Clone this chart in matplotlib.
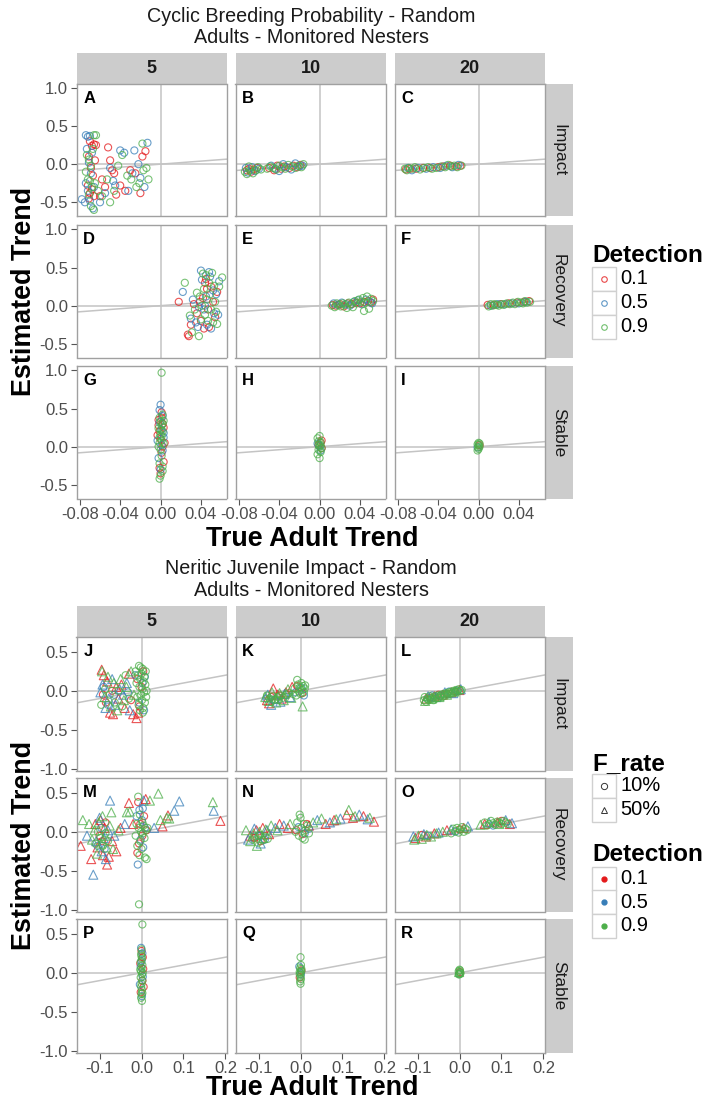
import matplotlib.pyplot as plt
from matplotlib.patches import Rectangle

plt.rcParams['font.family'] = ['Liberation Sans', 'DejaVu Sans']

W, H = 707, 1101

det_levels = ["0.1", "0.5", "0.9"]
det_colors = ["#E41A1C", "#377EB8", "#4DAF4A"]
f_levels = ["10%", "50%"]
f_markers = {10: "o", 50: "^"}

n_nesters = ["5", "10", "20"]
scenarios = ["Impact", "Recovery", "Stable"]

top_title = ["Cyclic Breeding Probability - Random", "Adults - Monitored Nesters"]
bottom_title = ["Neritic Juvenile Impact - Random", "Adults - Monitored Nesters"]

top_xticks = [-0.08, -0.04, 0.0, 0.04]
top_xlabels = ["-0.08", "-0.04", "0.00", "0.04"]
top_yticks = [-0.5, 0.0, 0.5, 1.0]
top_ylabels = ["-0.5", "0.0", "0.5", "1.0"]
bot_xticks = [-0.1, 0.0, 0.1, 0.2]
bot_xlabels = ["-0.1", "0.0", "0.1", "0.2"]
bot_yticks = [-1.0, -0.5, 0.0, 0.5]
bot_ylabels = ["-1.0", "-0.5", "0.0", "0.5"]

# ---- cyclic breeding probability: (true trend, estimated trend) per detection level
A_d1 = [(-0.070, 0.30), (-0.068, 0.24), (-0.066, 0.26), (-0.071, 0.10), (-0.069, -0.05), (-0.067, -0.15),
        (-0.072, -0.28), (-0.070, -0.38), (-0.066, -0.42), (-0.068, -0.33), (-0.065, 0.05), (-0.064, 0.25),
        (-0.071, -0.45), (-0.052, 0.22), (-0.050, 0.05), (-0.048, -0.08), (-0.046, -0.12), (-0.055, -0.30),
        (-0.044, -0.40), (-0.040, -0.28), (-0.035, -0.35), (-0.030, -0.08), (-0.025, -0.12), (-0.020, -0.38),
        (-0.018, 0.10), (-0.015, 0.17), (-0.058, -0.20), (-0.060, -0.42)]
A_d5 = [(-0.074, 0.38), (-0.072, 0.36), (-0.070, 0.37), (-0.073, 0.20), (-0.071, 0.02), (-0.069, -0.12),
        (-0.074, -0.25), (-0.072, -0.35), (-0.070, -0.48), (-0.067, -0.58), (-0.078, -0.46), (-0.075, -0.50),
        (-0.066, -0.30), (-0.068, 0.15), (-0.050, -0.05), (-0.047, -0.22), (-0.040, 0.18), (-0.036, 0.15),
        (-0.032, -0.35), (-0.028, -0.12), (-0.026, 0.18), (-0.022, 0.00), (-0.020, -0.18), (-0.016, -0.30),
        (-0.013, 0.28), (-0.055, -0.38), (-0.045, -0.28), (-0.060, -0.50)]
A_d9 = [(-0.066, 0.38), (-0.064, 0.38), (-0.073, 0.12), (-0.071, 0.06), (-0.069, -0.02), (-0.072, -0.20),
        (-0.070, -0.22), (-0.068, -0.30), (-0.071, -0.40), (-0.069, -0.55), (-0.066, -0.60), (-0.074, -0.10),
        (-0.067, 0.20), (-0.065, -0.25), (-0.050, -0.50), (-0.053, -0.20), (-0.046, -0.35), (-0.042, -0.02),
        (-0.038, 0.12), (-0.033, -0.15), (-0.029, -0.20), (-0.024, -0.30), (-0.021, -0.25), (-0.018, 0.27),
        (-0.017, -0.08), (-0.014, -0.05), (-0.012, -0.20), (-0.058, -0.42), (-0.062, -0.35)]

B_d1 = [(-0.072, -0.08), (-0.070, -0.06), (-0.068, -0.10), (-0.065, -0.07), (-0.062, -0.05), (-0.050, -0.05),
        (-0.045, -0.08), (-0.042, -0.02), (-0.038, -0.06), (-0.035, -0.03), (-0.030, -0.05), (-0.026, -0.02),
        (-0.022, -0.04), (-0.019, -0.01)]
B_d5 = [(-0.073, -0.05), (-0.071, -0.11), (-0.067, -0.04), (-0.064, -0.09), (-0.060, -0.06), (-0.048, -0.02),
        (-0.044, -0.06), (-0.040, -0.09), (-0.036, 0.00), (-0.033, -0.04), (-0.028, -0.07), (-0.024, 0.01),
        (-0.020, -0.03), (-0.017, -0.02)]
B_d9 = [(-0.074, -0.10), (-0.072, -0.13), (-0.070, -0.03), (-0.069, -0.08), (-0.066, -0.12), (-0.063, -0.08),
        (-0.061, -0.04), (-0.058, -0.07), (-0.052, -0.06), (-0.049, -0.03), (-0.046, -0.05), (-0.043, -0.07),
        (-0.040, -0.02), (-0.037, -0.04), (-0.034, -0.06), (-0.031, -0.01), (-0.027, -0.03), (-0.024, -0.05),
        (-0.021, -0.02), (-0.018, -0.04), (-0.016, 0.00)]

C_d1 = [(-0.072, -0.07), (-0.068, -0.06), (-0.062, -0.06), (-0.055, -0.05), (-0.048, -0.05), (-0.040, -0.04),
        (-0.035, -0.03), (-0.028, -0.02), (-0.022, -0.03), (-0.018, -0.02)]
C_d5 = [(-0.070, -0.05), (-0.066, -0.08), (-0.060, -0.05), (-0.052, -0.06), (-0.045, -0.04), (-0.038, -0.05),
        (-0.032, -0.02), (-0.026, -0.04), (-0.020, -0.01)]
C_d9 = [(-0.073, -0.06), (-0.071, -0.08), (-0.069, -0.05), (-0.065, -0.06), (-0.063, -0.04), (-0.058, -0.07),
        (-0.054, -0.05), (-0.050, -0.04), (-0.046, -0.06), (-0.042, -0.05), (-0.037, -0.03), (-0.033, -0.04),
        (-0.030, -0.01), (-0.027, -0.03), (-0.024, -0.02), (-0.021, -0.04), (-0.017, -0.02)]

D_d1 = [(0.018, 0.05), (0.027, -0.38), (0.028, -0.40), (0.030, -0.25), (0.033, 0.02), (0.036, -0.10),
        (0.040, -0.20), (0.042, 0.10), (0.044, 0.30), (0.045, 0.35), (0.046, 0.22), (0.047, -0.05),
        (0.048, -0.28), (0.050, 0.25), (0.052, 0.05), (0.054, -0.15), (0.056, 0.18), (0.043, -0.30),
        (0.039, 0.05)]
D_d5 = [(0.022, 0.18), (0.030, -0.17), (0.032, 0.08), (0.035, -0.22), (0.037, -0.28), (0.040, 0.46),
        (0.041, 0.34), (0.043, -0.05), (0.045, 0.12), (0.046, -0.25), (0.048, 0.44), (0.049, 0.38),
        (0.050, -0.30), (0.052, 0.20), (0.053, -0.10), (0.055, 0.15), (0.057, -0.12), (0.058, 0.32),
        (0.038, -0.02), (0.044, 0.00)]
D_d9 = [(0.024, 0.30), (0.029, -0.13), (0.031, -0.35), (0.034, -0.05), (0.036, 0.17), (0.038, -0.40),
        (0.040, -0.18), (0.041, 0.00), (0.042, 0.42), (0.043, 0.22), (0.044, -0.12), (0.045, 0.40),
        (0.046, 0.08), (0.047, -0.20), (0.048, 0.30), (0.049, 0.15), (0.050, -0.05), (0.051, 0.43),
        (0.052, -0.22), (0.053, 0.26), (0.054, 0.05), (0.055, -0.08), (0.056, -0.24), (0.058, 0.25),
        (0.061, 0.37), (0.039, 0.12)]

E_d1 = [(0.013, 0.01), (0.016, 0.00), (0.020, 0.02), (0.024, -0.01), (0.028, 0.03), (0.032, 0.02),
        (0.036, 0.04), (0.040, 0.03), (0.044, 0.05), (0.048, 0.06), (0.051, 0.04), (0.053, 0.08)]
E_d5 = [(0.014, 0.03), (0.018, 0.01), (0.022, 0.04), (0.026, 0.02), (0.030, 0.00), (0.034, 0.05),
        (0.038, 0.07), (0.042, 0.02), (0.046, 0.08), (0.050, 0.05), (0.052, 0.03)]
E_d9 = [(0.012, 0.00), (0.015, -0.02), (0.017, 0.03), (0.019, 0.01), (0.021, -0.01), (0.023, 0.03),
        (0.025, 0.01), (0.027, -0.03), (0.029, 0.04), (0.031, 0.02), (0.033, -0.02), (0.035, 0.06),
        (0.037, 0.03), (0.039, 0.08), (0.041, 0.05), (0.043, 0.10), (0.045, 0.04), (0.047, 0.12),
        (0.049, -0.04), (0.051, 0.09), (0.053, 0.06), (0.044, -0.07)]

F_d1 = [(0.009, 0.01), (0.015, 0.01), (0.022, 0.02), (0.030, 0.03), (0.038, 0.04), (0.045, 0.05), (0.050, 0.06)]
F_d5 = [(0.012, 0.00), (0.019, 0.02), (0.026, 0.02), (0.033, 0.03), (0.040, 0.03), (0.047, 0.05)]
F_d9 = [(0.010, -0.01), (0.012, 0.02), (0.014, 0.00), (0.016, 0.02), (0.018, 0.01), (0.020, 0.00),
        (0.023, 0.02), (0.025, 0.01), (0.028, 0.03), (0.031, 0.02), (0.034, 0.04), (0.036, 0.02),
        (0.039, 0.05), (0.042, 0.04), (0.044, 0.03), (0.046, 0.06), (0.048, 0.04), (0.051, 0.05)]

G_d1 = [(-0.002, 0.35), (0.001, 0.45), (0.002, 0.30), (-0.001, 0.20), (0.000, 0.10), (0.003, 0.25),
        (-0.003, 0.15), (0.002, 0.00), (0.001, -0.08), (0.003, -0.20), (-0.001, -0.28), (0.000, -0.35),
        (-0.002, 0.28), (0.001, 0.38), (0.004, 0.05)]
G_d5 = [(0.000, 0.55), (-0.001, 0.48), (0.002, 0.40), (-0.003, 0.08), (0.001, 0.22), (0.003, 0.12),
        (-0.002, -0.15), (0.000, -0.30), (0.002, -0.05), (-0.001, 0.32), (0.003, 0.18), (0.001, 0.02)]
G_d9 = [(0.001, 0.97), (0.002, 0.42), (-0.001, 0.38), (0.000, 0.33), (0.001, 0.28), (-0.002, 0.24),
        (0.002, 0.20), (0.000, 0.16), (-0.001, 0.12), (0.001, 0.08), (0.003, 0.04), (-0.002, 0.00),
        (0.000, -0.04), (0.001, -0.12), (-0.001, -0.22), (0.002, -0.32), (0.000, -0.38), (-0.001, -0.42),
        (0.002, 0.30), (0.000, 0.22), (0.001, 0.14), (-0.001, 0.05), (0.003, 0.34), (0.002, -0.26)]

H_d1 = [(0.001, 0.05), (0.002, -0.02), (-0.001, 0.02), (0.002, 0.08)]
H_d5 = [(-0.002, 0.04), (0.001, -0.05), (0.000, 0.01)]
H_d9 = [(0.000, 0.14), (-0.002, 0.11), (0.001, 0.06), (-0.001, 0.03), (0.000, 0.00), (0.002, -0.02),
        (-0.001, -0.04), (0.001, -0.07), (-0.002, -0.10), (0.000, -0.15), (0.001, 0.02), (-0.001, 0.07)]

I_d1 = [(0.001, 0.02)]
I_d5 = [(-0.001, -0.01)]
I_d9 = [(0.000, 0.05), (-0.001, 0.03), (0.001, 0.00), (0.000, -0.03), (-0.001, -0.05), (0.001, 0.04),
        (0.000, -0.01), (0.000, 0.02)]

# ---- neritic juvenile impact: (true trend, estimated trend, F_rate %) per detection level
J_d1 = [(-0.095, 0.27, 50), (-0.090, 0.20, 50), (-0.082, 0.12, 50), (-0.075, -0.28, 50), (-0.068, -0.30, 50),
        (-0.060, 0.05, 50), (-0.055, -0.10, 50), (-0.048, 0.08, 50), (-0.040, -0.22, 50), (-0.030, 0.22, 50),
        (-0.020, -0.30, 50), (-0.012, -0.35, 50), (-0.008, -0.28, 50), (-0.092, -0.05, 10), (-0.085, -0.15, 10),
        (-0.070, 0.00, 10), (-0.025, -0.12, 10), (-0.010, 0.15, 10), (-0.005, -0.20, 10), (0.000, 0.05, 10),
        (0.004, 0.25, 10)]
J_d5 = [(-0.098, -0.02, 50), (-0.093, 0.08, 50), (-0.086, -0.22, 50), (-0.078, -0.10, 50), (-0.070, 0.15, 50),
        (-0.062, -0.18, 50), (-0.052, 0.02, 50), (-0.044, -0.05, 50), (-0.035, 0.10, 50), (-0.028, -0.25, 50),
        (-0.090, 0.05, 10), (-0.080, -0.18, 10), (-0.065, -0.05, 10), (-0.032, -0.02, 10), (-0.015, 0.20, 10),
        (-0.006, -0.15, 10), (0.002, 0.10, 10), (0.006, -0.25, 10), (0.008, 0.18, 10)]
J_d9 = [(-0.094, 0.25, 50), (-0.088, -0.08, 50), (-0.080, 0.18, 50), (-0.073, -0.20, 50), (-0.066, 0.10, 50),
        (-0.058, -0.25, 50), (-0.050, 0.15, 50), (-0.042, -0.12, 50), (-0.036, 0.05, 50), (-0.025, 0.25, 50),
        (-0.018, -0.05, 50), (-0.096, -0.18, 10), (-0.087, 0.02, 10), (-0.076, -0.05, 10), (-0.064, -0.15, 10),
        (-0.055, 0.00, 10), (-0.046, -0.20, 10), (-0.038, 0.20, 10), (-0.030, -0.10, 10), (-0.014, 0.25, 10),
        (-0.012, 0.10, 10), (-0.010, -0.08, 10), (-0.008, 0.20, 10), (-0.007, -0.18, 10), (-0.005, 0.05, 10),
        (-0.004, -0.25, 10), (-0.003, 0.15, 10), (-0.002, 0.30, 10), (-0.001, -0.05, 10), (0.000, 0.22, 10),
        (0.001, -0.12, 10), (0.002, 0.02, 10), (0.003, 0.28, 10), (0.004, -0.22, 10), (0.005, 0.12, 10),
        (0.006, -0.02, 10), (0.007, 0.18, 10), (0.008, -0.15, 10), (0.009, 0.08, 10), (0.010, 0.25, 10),
        (0.011, -0.08, 10), (0.012, 0.00, 10), (-0.006, 0.32, 10), (0.003, -0.28, 10)]

K_d1 = [(-0.080, -0.12, 50), (-0.075, -0.16, 50), (-0.065, 0.03, 50), (-0.055, -0.05, 50), (-0.045, -0.10, 50),
        (-0.035, -0.02, 50), (-0.020, 0.05, 50), (-0.070, -0.08, 10), (-0.050, -0.06, 10), (-0.008, 0.06, 10),
        (0.004, -0.03, 10)]
K_d5 = [(-0.078, -0.05, 50), (-0.070, -0.18, 50), (-0.060, -0.10, 50), (-0.048, -0.14, 50), (-0.038, -0.04, 50),
        (-0.025, -0.08, 50), (-0.082, -0.10, 10), (-0.062, -0.12, 10), (-0.012, -0.02, 10), (0.002, 0.04, 10),
        (0.008, -0.06, 10)]
K_d9 = [(-0.084, -0.08, 50), (-0.076, -0.13, 50), (-0.068, -0.02, 50), (-0.058, -0.15, 50), (-0.050, -0.03, 50),
        (-0.040, -0.12, 50), (-0.030, 0.02, 50), (-0.022, -0.09, 50), (0.005, -0.20, 50), (-0.080, -0.06, 10),
        (-0.074, -0.10, 10), (-0.066, -0.07, 10), (-0.060, -0.11, 10), (-0.054, -0.08, 10), (-0.046, -0.06, 10),
        (-0.042, -0.09, 10), (-0.034, -0.05, 10), (-0.028, -0.03, 10), (-0.018, -0.04, 10), (-0.014, 0.03, 10),
        (-0.010, -0.06, 10), (-0.006, 0.08, 10), (-0.004, -0.01, 10), (-0.002, 0.04, 10), (0.000, -0.04, 10),
        (0.002, 0.10, 10), (0.004, 0.01, 10), (0.006, 0.06, 10), (0.008, -0.02, 10), (0.010, 0.03, 10),
        (-0.008, 0.14, 10), (0.011, 0.07, 10), (-0.070, -0.14, 10), (-0.052, -0.12, 10)]

L_d1 = [(-0.080, -0.10, 50), (-0.060, -0.07, 50), (-0.040, -0.05, 50), (-0.020, -0.02, 50), (0.000, 0.01, 50),
        (-0.070, -0.09, 10), (-0.050, -0.05, 10), (-0.030, -0.04, 10), (-0.010, -0.01, 10)]
L_d5 = [(-0.075, -0.07, 50), (-0.055, -0.08, 50), (-0.035, -0.02, 50), (-0.015, -0.03, 50), (0.003, 0.02, 50),
        (-0.065, -0.06, 10), (-0.045, -0.06, 10), (-0.025, -0.01, 10), (-0.005, 0.00, 10)]
L_d9 = [(-0.085, -0.12, 10), (-0.083, -0.08, 10), (-0.080, -0.14, 10), (-0.077, -0.10, 10), (-0.074, -0.12, 10),
        (-0.071, -0.07, 10), (-0.068, -0.11, 10), (-0.065, -0.09, 10), (-0.062, -0.12, 10), (-0.059, -0.07, 10),
        (-0.056, -0.10, 10), (-0.053, -0.06, 10), (-0.050, -0.09, 10), (-0.047, -0.07, 10), (-0.044, -0.05, 10),
        (-0.041, -0.08, 10), (-0.038, -0.04, 10), (-0.035, -0.06, 10), (-0.032, -0.03, 10), (-0.029, -0.05, 10),
        (-0.026, -0.02, 10), (-0.023, -0.04, 10), (-0.020, -0.01, 10), (-0.017, -0.03, 10), (-0.014, 0.00, 10),
        (-0.011, -0.02, 10), (-0.008, 0.01, 10), (-0.005, -0.01, 10), (-0.002, 0.02, 10), (0.002, 0.00, 10),
        (0.005, 0.01, 10), (-0.082, -0.13, 50), (-0.066, -0.10, 50), (-0.048, -0.08, 50), (-0.030, -0.05, 50),
        (-0.012, -0.01, 50)]

M_d1 = [(-0.145, -0.18, 50), (-0.120, -0.35, 50), (-0.110, 0.10, 50), (-0.105, -0.20, 50), (-0.098, 0.15, 50),
        (-0.092, -0.30, 50), (-0.088, 0.05, 50), (-0.082, -0.42, 50), (-0.078, -0.32, 50), (-0.070, -0.12, 50),
        (-0.060, -0.25, 50), (-0.050, 0.05, 50), (-0.030, 0.37, 50), (-0.020, 0.10, 50), (0.010, 0.42, 50),
        (0.050, 0.07, 50), (0.063, 0.21, 50), (0.188, 0.14, 50), (-0.100, -0.05, 10), (-0.094, -0.12, 10),
        (-0.086, 0.12, 10), (-0.010, -0.27, 10), (-0.006, -0.15, 10), (-0.003, 0.10, 10), (0.002, -0.05, 10),
        (0.006, 0.20, 10), (0.012, 0.02, 10), (-0.008, 0.38, 10)]
M_d5 = [(-0.130, -0.05, 50), (-0.115, -0.55, 50), (-0.108, -0.12, 50), (-0.100, 0.18, 50), (-0.095, -0.25, 50),
        (-0.090, -0.08, 50), (-0.085, -0.35, 50), (-0.080, 0.02, 50), (-0.075, 0.40, 50), (-0.065, -0.05, 50),
        (-0.040, 0.10, 50), (0.005, 0.40, 50), (0.030, 0.05, 50), (0.078, 0.27, 50), (0.090, 0.39, 50),
        (0.172, 0.27, 50), (-0.105, -0.18, 10), (-0.096, 0.05, 10), (-0.088, -0.22, 10), (-0.012, 0.20, 10),
        (-0.009, -0.42, 10), (-0.005, 0.28, 10), (-0.002, -0.10, 10), (0.001, 0.15, 10), (0.004, -0.20, 10),
        (0.008, 0.05, 10), (0.003, 0.30, 10)]
M_d9 = [(-0.140, 0.15, 50), (-0.125, 0.10, 50), (-0.118, -0.10, 50), (-0.112, 0.02, 50), (-0.106, -0.28, 50),
        (-0.102, 0.12, 50), (-0.097, -0.15, 50), (-0.093, 0.20, 50), (-0.087, -0.05, 50), (-0.083, -0.20, 50),
        (-0.076, 0.08, 50), (-0.072, 0.25, 50), (-0.068, -0.22, 50), (-0.055, 0.02, 50), (-0.035, 0.25, 50),
        (-0.028, 0.26, 50), (0.020, 0.40, 50), (0.040, 0.49, 50), (0.045, 0.15, 50), (0.060, 0.18, 50),
        (0.066, 0.17, 50), (0.170, 0.38, 50), (-0.110, -0.15, 10), (-0.104, 0.00, 10), (-0.098, -0.08, 10),
        (-0.092, -0.18, 10), (-0.086, -0.02, 10), (-0.080, -0.12, 10), (-0.014, -0.05, 10), (-0.012, 0.10, 10),
        (-0.010, -0.18, 10), (-0.008, 0.45, 10), (-0.007, 0.05, 10), (-0.006, -0.93, 10), (-0.005, -0.30, 10),
        (-0.004, 0.22, 10), (-0.003, -0.12, 10), (-0.001, 0.00, 10), (0.000, -0.22, 10), (0.002, 0.12, 10),
        (0.003, -0.02, 10), (0.005, 0.08, 10), (0.007, -0.08, 10), (0.008, -0.33, 10), (0.010, 0.02, 10),
        (0.012, -0.35, 10), (0.014, 0.05, 10)]

N_d1 = [(-0.120, -0.05, 50), (-0.105, 0.02, 50), (-0.090, 0.05, 50), (-0.075, -0.03, 50), (-0.050, 0.10, 50),
        (-0.030, 0.05, 50), (0.020, 0.08, 50), (0.060, 0.10, 50), (0.080, 0.15, 50), (0.110, 0.22, 50),
        (0.125, 0.18, 50), (0.150, 0.20, 50), (0.175, 0.13, 50), (-0.110, -0.08, 10), (-0.095, -0.12, 10),
        (-0.010, 0.02, 10), (0.005, -0.03, 10), (0.015, 0.10, 10)]
N_d5 = [(-0.125, -0.10, 50), (-0.110, 0.04, 50), (-0.095, -0.15, 50), (-0.080, 0.02, 50), (-0.060, 0.05, 50),
        (-0.040, 0.08, 50), (0.040, 0.15, 50), (0.070, 0.12, 50), (0.095, 0.17, 50), (0.140, 0.22, 50),
        (0.160, 0.16, 50), (-0.100, -0.05, 10), (-0.085, -0.10, 10), (-0.005, 0.06, 10), (0.010, -0.02, 10),
        (0.020, 0.04, 10)]
N_d9 = [(-0.130, 0.02, 50), (-0.120, -0.12, 50), (-0.112, -0.02, 50), (-0.104, -0.18, 50), (-0.098, 0.00, 50),
        (-0.090, -0.08, 50), (-0.083, 0.03, 50), (-0.070, 0.08, 50), (-0.055, 0.02, 50), (-0.025, 0.10, 50),
        (0.030, 0.12, 50), (0.050, 0.17, 50), (0.085, 0.16, 50), (0.115, 0.28, 50), (0.130, 0.20, 50),
        (0.165, 0.18, 50), (-0.115, -0.10, 10), (-0.108, -0.06, 10), (-0.102, -0.14, 10), (-0.096, -0.04, 10),
        (-0.090, -0.11, 10), (-0.084, -0.06, 10), (-0.078, -0.09, 10), (-0.012, 0.00, 10), (-0.008, 0.12, 10),
        (-0.004, -0.05, 10), (0.000, 0.18, 10), (0.002, 0.05, 10), (0.005, -0.08, 10), (0.008, 0.10, 10),
        (0.012, 0.02, 10), (0.016, 0.08, 10), (0.020, -0.02, 10), (-0.002, 0.22, 10), (0.010, -0.10, 10)]

O_d1 = [(-0.105, -0.08, 50), (-0.080, -0.06, 50), (-0.060, -0.02, 50), (-0.030, 0.02, 50), (0.010, 0.05, 50),
        (0.060, 0.10, 50), (0.090, 0.12, 50), (0.120, 0.10, 50), (-0.090, -0.04, 10), (0.000, 0.03, 10),
        (0.100, 0.14, 10)]
O_d5 = [(-0.110, -0.06, 50), (-0.085, -0.03, 50), (-0.050, -0.01, 50), (-0.020, 0.03, 50), (0.020, 0.07, 50),
        (0.070, 0.12, 50), (0.110, 0.15, 50), (0.125, 0.11, 50), (-0.075, -0.05, 10), (-0.010, 0.00, 10),
        (0.080, 0.08, 10)]
O_d9 = [(-0.108, -0.10, 50), (-0.098, -0.05, 50), (-0.090, -0.09, 50), (-0.078, -0.04, 50), (-0.068, -0.06, 50),
        (-0.055, -0.02, 50), (-0.040, 0.00, 50), (0.050, 0.09, 50), (0.095, 0.10, 50), (-0.020, -0.02, 10),
        (-0.015, 0.04, 10), (-0.010, 0.01, 10), (-0.006, 0.05, 10), (-0.002, -0.01, 10), (0.002, 0.03, 10),
        (0.006, 0.06, 10), (0.010, 0.00, 10), (0.014, 0.04, 10), (0.018, 0.02, 10), (0.060, 0.12, 10),
        (0.065, 0.08, 10), (0.070, 0.10, 10), (0.075, 0.14, 10), (0.080, 0.11, 10), (0.085, 0.09, 10),
        (0.090, 0.13, 10), (0.095, 0.12, 10), (0.100, 0.10, 10), (0.105, 0.14, 10), (0.110, 0.12, 10),
        (0.115, 0.10, 10)]

P_d1 = [(0.003, 0.20, 10), (-0.002, -0.25, 10), (0.004, 0.05, 10), (-0.003, 0.12, 10), (0.002, -0.10, 10),
        (0.000, 0.28, 10), (0.005, -0.18, 10)]
P_d5 = [(-0.001, 0.32, 10), (0.002, 0.25, 10), (-0.004, -0.15, 10), (0.001, -0.30, 10), (-0.002, 0.08, 10),
        (0.003, -0.05, 10), (0.000, 0.15, 10)]
P_d9 = [(0.002, 0.62, 10), (0.000, 0.30, 10), (-0.001, 0.24, 10), (0.001, 0.18, 10), (-0.002, 0.14, 10),
        (0.002, 0.10, 10), (0.000, 0.06, 10), (-0.001, 0.02, 10), (0.001, -0.02, 10), (-0.002, -0.06, 10),
        (0.002, -0.10, 10), (0.000, -0.14, 10), (-0.001, -0.18, 10), (0.001, -0.22, 10), (0.000, -0.27, 10),
        (-0.001, -0.32, 10), (0.001, -0.36, 10), (0.003, 0.00, 10), (-0.003, 0.04, 10), (0.000, 0.21, 10),
        (0.002, -0.26, 10)]

Q_d1 = [(0.002, 0.03, 10), (-0.002, -0.06, 10)]
Q_d5 = [(-0.003, 0.08, 10), (0.001, -0.02, 10)]
Q_d9 = [(0.000, 0.20, 10), (0.001, 0.10, 10), (-0.001, 0.06, 10), (0.002, 0.02, 10), (-0.002, -0.02, 10),
        (0.000, -0.05, 10), (0.001, -0.08, 10), (-0.001, -0.11, 10), (0.000, -0.14, 10), (0.002, 0.05, 10),
        (-0.002, 0.01, 10), (0.000, 0.00, 10)]

R_d1 = [(0.001, 0.01, 10)]
R_d5 = [(-0.001, -0.01, 10)]
R_d9 = [(0.000, 0.04, 10), (-0.002, 0.02, 10), (0.002, 0.00, 10), (0.000, -0.02, 10), (-0.001, 0.01, 50),
        (0.001, 0.03, 10), (0.002, -0.01, 10), (-0.002, -0.02, 10)]

top_panels = [("A", A_d1, A_d5, A_d9), ("B", B_d1, B_d5, B_d9), ("C", C_d1, C_d5, C_d9),
              ("D", D_d1, D_d5, D_d9), ("E", E_d1, E_d5, E_d9), ("F", F_d1, F_d5, F_d9),
              ("G", G_d1, G_d5, G_d9), ("H", H_d1, H_d5, H_d9), ("I", I_d1, I_d5, I_d9)]
bottom_panels = [("J", J_d1, J_d5, J_d9), ("K", K_d1, K_d5, K_d9), ("L", L_d1, L_d5, L_d9),
                 ("M", M_d1, M_d5, M_d9), ("N", N_d1, N_d5, N_d9), ("O", O_d1, O_d5, O_d9),
                 ("P", P_d1, P_d5, P_d9), ("Q", Q_d1, Q_d5, Q_d9), ("R", R_d1, R_d5, R_d9)]

fig = plt.figure(figsize=(W / 100, H / 100), dpi=100)


def px_axes(left, top, width, height):
    return fig.add_axes([left / W, 1 - (top + height) / H, width / W, height / H])


col_left = [76.5, 235.5, 394.5]
col_w = 150
strip_w = 28


def draw_grid(panels, row_tops, row_h, strip_top, xlim, ylim, xticks, xlabels, yticks, ylabels, shapes):
    # column strips
    for c, lab in enumerate(n_nesters):
        sa = px_axes(col_left[c], strip_top, col_w, row_tops[0] - strip_top)
        sa.set_facecolor("#CCCCCC")
        sa.set_xticks([]); sa.set_yticks([])
        for s in sa.spines.values():
            s.set_visible(False)
        sa.text(0.5, 0.5, lab, ha="center", va="center", fontsize=13, fontweight="bold", color="#1A1A1A")
    # row strips
    for r, lab in enumerate(scenarios):
        sa = px_axes(col_left[2] + col_w, row_tops[r], strip_w, row_h)
        sa.set_facecolor("#CCCCCC")
        sa.set_xticks([]); sa.set_yticks([])
        for s in sa.spines.values():
            s.set_visible(False)
        sa.text(0.5, 0.5, lab, ha="center", va="center", rotation=270, fontsize=12.5, color="#1A1A1A")

    for i, (letter, d1, d5, d9) in enumerate(panels):
        r, c = divmod(i, 3)
        ax = px_axes(col_left[c], row_tops[r], col_w, row_h)
        ax.set_xlim(*xlim)
        ax.set_ylim(*ylim)
        ax.axhline(0, color="#C4C4C4", lw=1.1, zorder=1)
        ax.axvline(0, color="#C4C4C4", lw=1.1, zorder=1)
        ax.plot(xlim, xlim, color="#C4C4C4", lw=1.1, zorder=1)
        for pts, col in zip([d1, d5, d9], det_colors):
            if shapes:
                for f, mk in f_markers.items():
                    sub = [p for p in pts if p[2] == f]
                    if not sub:
                        continue
                    ms = 42 if mk == "^" else 26
                    ax.scatter([p[0] for p in sub], [p[1] for p in sub], s=ms, marker=mk,
                               facecolors="none", edgecolors=col, linewidths=0.8, alpha=0.75, zorder=2)
            else:
                ax.scatter([p[0] for p in pts], [p[1] for p in pts], s=26, marker="o",
                           facecolors="none", edgecolors=col, linewidths=0.8, alpha=0.75, zorder=2)
        ax.text(0.045, 0.945, letter, transform=ax.transAxes, ha="left", va="top",
                fontsize=12, fontweight="bold", color="black")
        for s in ax.spines.values():
            s.set_color("#A0A0A0")
            s.set_linewidth(1.0)
        ax.tick_params(length=4, width=0.8, color="#555555", labelsize=12, labelcolor="#4D4D4D", pad=2)
        ax.set_xticks(xticks)
        ax.set_yticks(yticks)
        if r == 2:
            ax.set_xticklabels(xlabels)
        else:
            ax.tick_params(axis="x", length=0, labelbottom=False)
        if c == 0:
            ax.set_yticklabels(ylabels)
        else:
            ax.tick_params(axis="y", length=0, labelleft=False)


draw_grid(top_panels, [83.5, 225, 366], 132.5, 53, (-0.0833, 0.0653), (-0.68, 1.058),
          top_xticks, top_xlabels, top_yticks, top_ylabels, shapes=False)
draw_grid(bottom_panels, [637, 778, 919], 133.5, 605.5, (-0.155, 0.2025), (-1.022, 0.69),
          bot_xticks, bot_xlabels, bot_yticks, bot_ylabels, shapes=True)

# titles, axis labels and legends in pixel coordinates
ov = fig.add_axes([0, 0, 1, 1])
ov.set_xlim(0, W)
ov.set_ylim(H, 0)
ov.axis("off")

for (l1, l2), y0 in [(top_title, 21.5), (bottom_title, 574)]:
    ov.text(311, y0, l1, ha="center", va="baseline", fontsize=14.2, color="#1A1A1A")
    ov.text(311, y0 + 21.5, l2, ha="center", va="baseline", fontsize=14.2, color="#1A1A1A")

for yc in [291, 845]:
    ov.text(24, yc, "Estimated Trend", ha="center", va="center", rotation=90,
            fontsize=19.4, fontweight="bold", color="black")
for yb in [546, 1095]:
    ov.text(312, yb, "True Adult Trend", ha="center", va="baseline",
            fontsize=19.4, fontweight="bold", color="black")


def key_box(y):
    ov.add_patch(Rectangle((592, y), 24, 24, facecolor="white", edgecolor="#D0D0D0", lw=1))


# Detection legend (top)
ov.text(592, 262, "Detection", ha="left", va="baseline", fontsize=17.5, fontweight="bold")
for k, (lab, col) in enumerate(zip(det_levels, det_colors)):
    y = 267 + 24 * k
    key_box(y)
    ov.plot(604, y + 12, marker="o", ms=4, mfc="none", mec=col, mew=0.8, alpha=0.8)
    ov.text(620, y + 12, lab, ha="left", va="center", fontsize=14.5)

# F_rate legend (bottom)
ov.text(592, 770, "F_rate", ha="left", va="baseline", fontsize=17.5, fontweight="bold")
for k, (lab, mk) in enumerate(zip(f_levels, ["o", "^"])):
    y = 773.5 + 24 * k
    key_box(y)
    ov.plot(604, y + 12, marker=mk, ms=4.5, mfc="none", mec="#333333", mew=0.7)
    ov.text(620, y + 12, lab, ha="left", va="center", fontsize=14.5)

# Detection legend (bottom)
ov.text(592, 861, "Detection", ha="left", va="baseline", fontsize=17.5, fontweight="bold")
for k, (lab, col) in enumerate(zip(det_levels, det_colors)):
    y = 866.5 + 23.5 * k
    key_box(y)
    ov.plot(604, y + 12, marker="o", ms=3.5, mfc=col, mec=col)
    ov.text(620, y + 12, lab, ha="left", va="center", fontsize=14.5)

fig.savefig("out.png", dpi=100)
